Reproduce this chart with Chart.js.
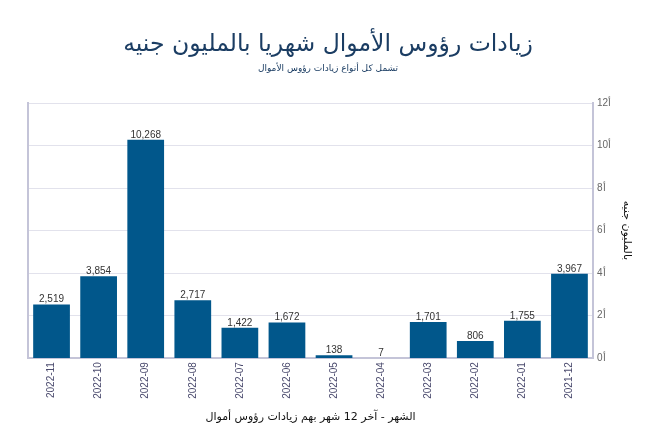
<!DOCTYPE html>
<html>
<head>
<meta charset="utf-8">
<script src="https://cdn.jsdelivr.net/npm/chart.js@4/dist/chart.umd.min.js"></script>
<style>
  html, body { margin: 0; padding: 0; background: #fff; }
  #wrap { width: 656px; height: 436px; }
</style>
</head>
<body>
<div id="wrap"><canvas id="capital-chart"></canvas></div>
<script>
const months = ['2022-11', '2022-10', '2022-09', '2022-08', '2022-07', '2022-06',
                '2022-05', '2022-04', '2022-03', '2022-02', '2022-01', '2021-12'];
const values = [2519, 3854, 10268, 2717, 1422, 1672, 138, 7, 1701, 806, 1755, 3967];
const yTicks = [0, 2000, 4000, 6000, 8000, 10000, 12000];

const titleText = 'زيادات رؤوس الأموال شهريا بالمليون جنيه';
const subtitleText = 'تشمل كل أنواع زيادات رؤوس الأموال';
const xTitle = 'الشهر - آخر 12 شهر بهم زيادات رؤوس أموال';
const yTitle = 'بالمليون جنيه';

const arabicFont = '"DejaVu Sans", "Noto Sans", sans-serif';
const numFont = '"Liberation Sans", Arial, sans-serif';

// value labels on top of every bar
const barLabels = {
    id: 'barLabels',
    afterDatasetsDraw(chart) {
        const ctx = chart.ctx;
        const meta = chart.getDatasetMeta(0);
        ctx.save();
        ctx.font = '10px ' + numFont;
        ctx.fillStyle = '#333333';
        ctx.textAlign = 'center';
        ctx.textBaseline = 'bottom';
        meta.data.forEach((bar, i) => {
            ctx.fillText(values[i].toLocaleString('en-US'), bar.x, bar.y);
        });
        ctx.restore();
    }
};

new Chart(document.getElementById('capital-chart'), {
    type: 'bar',
    data: {
        labels: months,
        datasets: [{
            data: values,
            backgroundColor: '#01578b',
            barPercentage: 0.78,
            categoryPercentage: 1.0
        }]
    },
    options: {
        responsive: true,
        maintainAspectRatio: false,
        animation: false,
        layout: { padding: { left: 20, right: 20, bottom: 12 } },
        plugins: {
            legend: { display: false },
            tooltip: { enabled: false },
            title: {
                display: true,
                text: titleText,
                color: '#1b3d63',
                font: { family: arabicFont, size: 23.5, weight: 'normal' },
                padding: { top: 31, bottom: 4 }
            },
            subtitle: {
                display: true,
                text: subtitleText,
                color: '#1b3d63',
                font: { family: arabicFont, size: 9 },
                padding: { top: 0, bottom: 29 }
            }
        },
        scales: {
            x: {
                grid: { display: false, drawTicks: false },
                border: { color: '#c4c4d8', width: 2 },
                ticks: {
                    color: '#4b4b6e',
                    font: { family: numFont, size: 10 },
                    minRotation: 90,
                    maxRotation: 90,
                    padding: 4
                },
                title: {
                    display: true,
                    text: xTitle,
                    color: '#111111',
                    font: { family: arabicFont, size: 11 },
                    padding: { top: 8, bottom: 0 }
                }
            },
            // empty left axis, only its border line is shown
            yLeft: {
                position: 'left',
                min: 0,
                max: 12000,
                grid: { display: false, drawTicks: false },
                border: { color: '#c4c4d8', width: 2 },
                ticks: { display: false },
                afterFit: (scale) => { scale.width = 8; }
            },
            y: {
                position: 'right',
                min: 0,
                max: 12000,
                afterBuildTicks: (axis) => { axis.ticks = yTicks.map(v => ({ value: v })); },
                afterFit: (scale) => { scale.width = 43; },
                grid: { color: '#e2e2ec', drawTicks: false },
                border: { color: '#c4c4d8', width: 2 },
                ticks: {
                    color: '#666666',
                    font: { family: numFont, size: 10 },
                    padding: 4,
                    callback: (v) => (v / 1000) + 'أ'
                },
                title: {
                    display: true,
                    text: yTitle,
                    color: '#111111',
                    font: { family: arabicFont, size: 11 },
                    padding: { top: 3, bottom: 4 }
                }
            }
        }
    },
    plugins: [barLabels]
});
</script>
</body>
</html>
